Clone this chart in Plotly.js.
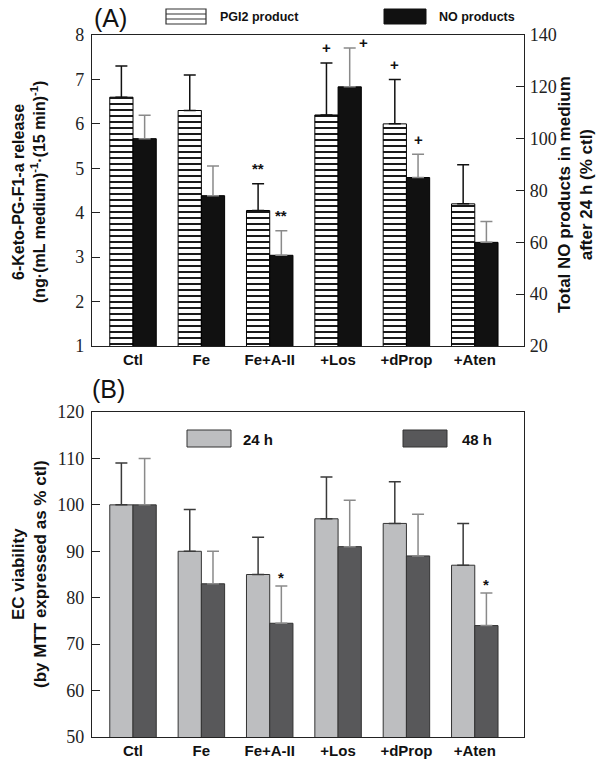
<!DOCTYPE html>
<html>
<head>
<meta charset="utf-8">
<script src="https://cdn.plot.ly/plotly-3.0.1.min.js"></script>
<style>html,body{margin:0;padding:0;background:#fff;}</style>
</head>
<body>
<div id="chart" style="width:602px;height:768px;"></div>
<script>
// ---- data ----
const categories = ['Ctl', 'Fe', 'Fe+A-II', '+Los', '+dProp', '+Aten'];

// Panel A
const pgi2Mean = [6.6, 6.3, 4.05, 6.2, 6.0, 4.2];
const pgi2SD   = [0.7, 0.8, 0.6, 1.17, 1.0, 0.88];
const pgi2Sig  = ['', '', '**', '+', '+', ''];

const noMean = [100, 78, 55, 120, 85, 60];
const noSD   = [9, 11.5, 9.5, 15, 9, 8];
const noSig  = ['', '', '**', '+', '+', ''];

// Panel B
const v24Mean = [100, 90, 85, 97, 96, 87];
const v24SD   = [9, 9, 8, 9, 9, 9];
const v24Sig  = ['', '', '', '', '', ''];

const v48Mean = [100, 83, 74.5, 91, 89, 74];
const v48SD   = [10, 7, 8, 10, 9, 7];
const v48Sig  = ['', '', '*', '', '', '*'];

// ---- layout helpers ----
const W = 602, H = 768;
const px = p => p / W;
const py = p => 1 - p / H;
const BW = 0.34;
const zeros = categories.map(() => 0);

const serif = '"Liberation Serif", "Times New Roman", Times, serif';
const sans = '"Liberation Sans", Arial, sans-serif';

const traces = [
  {
    type: 'bar', name: 'PGI2 product', x: categories, y: pgi2Mean,
    xaxis: 'x', yaxis: 'y', width: BW, offset: -BW,
    marker: {color: '#ffffff', line: {color: '#000', width: 1},
      pattern: {shape: '-', fgcolor: '#000', bgcolor: '#fff', size: 6, solidity: 0.3}},
    error_y: {type: 'data', symmetric: false, array: pgi2SD, arrayminus: zeros,
      color: '#111', thickness: 1.5, width: 6},
    showlegend: false
  },
  {
    type: 'bar', name: 'NO products', x: categories, y: noMean,
    xaxis: 'x', yaxis: 'y2', width: BW, offset: 0,
    marker: {color: '#111', line: {color: '#000', width: 1}},
    error_y: {type: 'data', symmetric: false, array: noSD, arrayminus: zeros,
      color: '#8a8a8a', thickness: 1.5, width: 6},
    showlegend: false
  },
  {
    type: 'bar', name: '24 h', x: categories, y: v24Mean,
    xaxis: 'x2', yaxis: 'y3', width: BW, offset: -BW,
    marker: {color: '#bdbec0', line: {color: '#333', width: 1}},
    error_y: {type: 'data', symmetric: false, array: v24SD, arrayminus: zeros,
      color: '#3a3a3a', thickness: 1.5, width: 6},
    showlegend: false
  },
  {
    type: 'bar', name: '48 h', x: categories, y: v48Mean,
    xaxis: 'x2', yaxis: 'y3', width: BW, offset: 0,
    marker: {color: '#58585a', line: {color: '#333', width: 1}},
    error_y: {type: 'data', symmetric: false, array: v48SD, arrayminus: zeros,
      color: '#8a8a8a', thickness: 1.5, width: 6},
    showlegend: false
  }
];

// significance marks
const annotations = [];
function addSig(sig, mean, sd, xref, yref, side, ymax) {
  sig.forEach((s, i) => {
    if (!s) return;
    const top = mean[i] + sd[i];
    const xc = i + (side < 0 ? -BW / 2 : BW / 2);
    const near = (ymax - top) / ymax < 0.06;
    const lift = s.charAt(0) === '*' && s.length === 1 ? 9 : 15;
    annotations.push({
      x: xc, y: top, xref: xref, yref: yref, text: '<b>' + s + '</b>',
      showarrow: false, font: {family: sans, size: 15, color: '#111'},
      xshift: near ? 14 : 0, yshift: near ? 5 : lift, yanchor: 'middle'
    });
  });
}
addSig(pgi2Sig, pgi2Mean, pgi2SD, 'x', 'y', -1, 8);
addSig(noSig, noMean, noSD, 'x', 'y2', 1, 140);
addSig(v24Sig, v24Mean, v24SD, 'x2', 'y3', -1, 120);
addSig(v48Sig, v48Mean, v48SD, 'x2', 'y3', 1, 120);

// panel labels
annotations.push({xref: 'paper', yref: 'paper', x: px(92), y: py(18), xanchor: 'left', yanchor: 'middle',
  text: '(A)', showarrow: false, font: {family: sans, size: 25, color: '#111'}});
annotations.push({xref: 'paper', yref: 'paper', x: px(90), y: py(389), xanchor: 'left', yanchor: 'middle',
  text: '(B)', showarrow: false, font: {family: sans, size: 25, color: '#111'}});

// axis titles
annotations.push({xref: 'paper', yref: 'paper', x: px(29), y: py(192), xanchor: 'center', yanchor: 'middle',
  textangle: -90, showarrow: false, font: {family: sans, size: 16, color: '#111'},
  text: '<b>6-Keto-PG-F1-a release</b><br><b>(ng\u00b7(mL medium)<sup>-1</sup>\u00b7(15 min)<sup>-1</sup>)</b>'});
annotations.push({xref: 'paper', yref: 'paper', x: px(575), y: py(195), xanchor: 'center', yanchor: 'middle',
  textangle: -90, showarrow: false, font: {family: sans, size: 17, color: '#111'},
  text: '<b>Total NO products in medium</b><br><b>after 24 h (% ctl)</b>'});
annotations.push({xref: 'paper', yref: 'paper', x: px(29), y: py(574), xanchor: 'center', yanchor: 'middle',
  textangle: -90, showarrow: false, font: {family: sans, size: 17, color: '#111'},
  text: '<b>EC viability</b><br><b>(by MTT expressed as % ctl)</b>'});

// legend texts
annotations.push({xref: 'paper', yref: 'paper', x: px(218), y: py(17), xanchor: 'left', yanchor: 'middle',
  text: '<b>PGI2 product</b>', showarrow: false, font: {family: sans, size: 12.5, color: '#111'}});
annotations.push({xref: 'paper', yref: 'paper', x: px(437), y: py(17), xanchor: 'left', yanchor: 'middle',
  text: '<b>NO products</b>', showarrow: false, font: {family: sans, size: 12.5, color: '#111'}});
annotations.push({xref: 'paper', yref: 'paper', x: px(241), y: py(439), xanchor: 'left', yanchor: 'middle',
  text: '<b>24 h</b>', showarrow: false, font: {family: sans, size: 15, color: '#111'}});
annotations.push({xref: 'paper', yref: 'paper', x: px(460), y: py(439), xanchor: 'left', yanchor: 'middle',
  text: '<b>48 h</b>', showarrow: false, font: {family: sans, size: 15, color: '#111'}});

// legend keys
const shapes = [
  {type: 'rect', xref: 'paper', yref: 'paper', x0: px(166), x1: px(206), y0: py(24), y1: py(9),
    fillcolor: '#fff', line: {color: '#333', width: 1.2}},
  {type: 'line', xref: 'paper', yref: 'paper', x0: px(166), x1: px(206), y0: py(14), y1: py(14),
    line: {color: '#333', width: 1.2}},
  {type: 'line', xref: 'paper', yref: 'paper', x0: px(166), x1: px(206), y0: py(19), y1: py(19),
    line: {color: '#333', width: 1.2}},
  {type: 'rect', xref: 'paper', yref: 'paper', x0: px(384), x1: px(426), y0: py(24), y1: py(9),
    fillcolor: '#111', line: {color: '#111', width: 1}},
  {type: 'rect', xref: 'paper', yref: 'paper', x0: px(187), x1: px(231), y0: py(447), y1: py(430),
    fillcolor: '#bdbec0', line: {color: '#333', width: 1}},
  {type: 'rect', xref: 'paper', yref: 'paper', x0: px(403), x1: px(447), y0: py(447), y1: py(430),
    fillcolor: '#58585a', line: {color: '#333', width: 1}}
];

const xCommon = {
  type: 'category', range: [-0.6, 5.72], showline: true, linecolor: '#222', linewidth: 1.2,
  mirror: true, ticks: '', showgrid: false, zeroline: false,
  tickfont: {family: sans, size: 15, color: '#111', weight: 'bold'}, fixedrange: true
};
const yCommon = {
  showline: true, linecolor: '#222', linewidth: 1.2, ticks: 'inside', ticklen: 8,
  tickcolor: '#222', showgrid: false, zeroline: false,
  tickfont: {family: serif, size: 18, color: '#222'}, fixedrange: true
};

const layout = {
  width: W, height: H, autosize: false,
  margin: {l: 0, r: 0, t: 0, b: 0},
  paper_bgcolor: '#fff', plot_bgcolor: '#fff',
  barmode: 'overlay', showlegend: false,
  xaxis: Object.assign({}, xCommon, {domain: [px(92), px(524)], anchor: 'y'}),
  yaxis: Object.assign({}, yCommon, {domain: [py(346), py(35)], range: [1, 8], dtick: 1, anchor: 'x',
    ticklabelstandoff: 3}),
  yaxis2: Object.assign({}, yCommon, {overlaying: 'y', side: 'right', range: [20, 140], dtick: 20,
    anchor: 'x', ticklabelstandoff: 1}),
  xaxis2: Object.assign({}, xCommon, {domain: [px(92), px(524)], anchor: 'y3'}),
  yaxis3: Object.assign({}, yCommon, {domain: [py(737), py(412)], range: [50, 120], dtick: 10,
    anchor: 'x2', mirror: true, ticklabelstandoff: 3}),
  annotations: annotations,
  shapes: shapes
};

Plotly.newPlot('chart', traces, layout, {displayModeBar: false, staticPlot: true});
</script>
</body>
</html>
